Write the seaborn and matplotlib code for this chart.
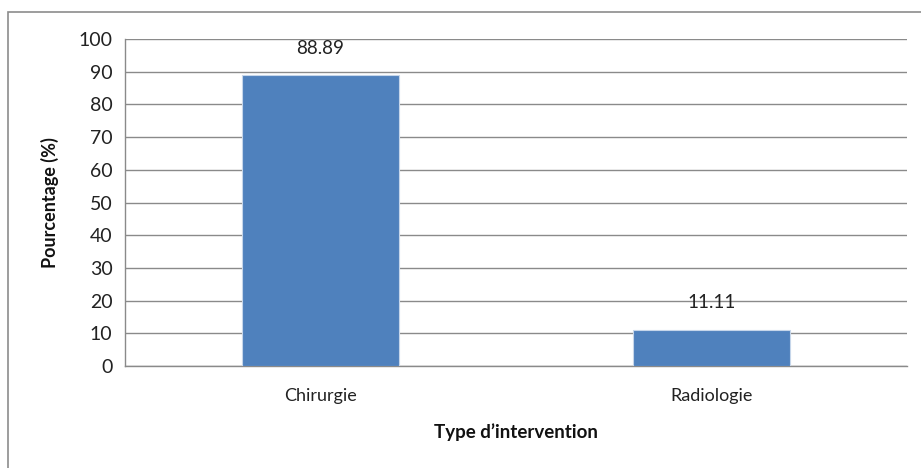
import matplotlib
matplotlib.use("Agg")
import matplotlib.pyplot as plt
import seaborn as sns
import pandas as pd
from matplotlib.patches import Rectangle

categories = ["Chirurgie", "Radiologie"]
percentages = [88.89, 11.11]
y_ticks = [0, 10, 20, 30, 40, 50, 60, 70, 80, 90, 100]

df = pd.DataFrame({"type": categories, "pct": percentages})

sns.set_theme(style="white")
plt.rcParams["font.family"] = ["Lato", "DejaVu Sans"]

W, H = 921, 468
fig = plt.figure(figsize=(W / 100, H / 100), dpi=100)
fig.patch.set_facecolor("white")

# outer chart frame (left and top edges visible)
fig.patches.append(Rectangle((8 / W, -0.1), 1.2, 1 - 12 / H + 0.1,
                             transform=fig.transFigure, fill=False,
                             edgecolor="#8c8c8c", linewidth=1.2, zorder=0))

ax = fig.add_axes([125 / W, 1 - 366 / H, (907 - 125) / W, (366 - 39) / H])

sns.barplot(data=df, x="type", y="pct", ax=ax, color="#4f81bd",
            width=0.4, saturation=1, edgecolor="#c6d6ea", linewidth=0.8,
            zorder=3)

ax.set_ylim(0, 100)
ax.set_yticks(y_ticks)
ax.yaxis.grid(True, color="#8a8a8a", linewidth=1.0, zorder=0)
ax.set_axisbelow(True)
for side in ["top", "right"]:
    ax.spines[side].set_visible(False)
ax.spines["left"].set_color("#8a8a8a")
ax.spines["bottom"].set_color("#8a8a8a")
ax.spines["left"].set_linewidth(1.0)
ax.spines["bottom"].set_linewidth(1.0)

ax.tick_params(axis="y", length=0, pad=9, labelsize=14, labelcolor="#222222")
ax.tick_params(axis="x", length=0, pad=16, labelsize=13, labelcolor="#222222")

ax.set_xlabel("Type d’intervention", fontsize=13.5, fontweight="bold",
              color="#111111", labelpad=14)
ax.set_ylabel("Pourcentage (%)", fontsize=13, fontweight="bold",
              color="#111111", labelpad=14)

for i, v in enumerate(percentages):
    ax.text(i, v + 8.3, f"{v:.2f}", ha="center", va="center",
            fontsize=13.5, color="#222222", zorder=4)

fig.savefig("out.png", dpi=100, facecolor="white")
